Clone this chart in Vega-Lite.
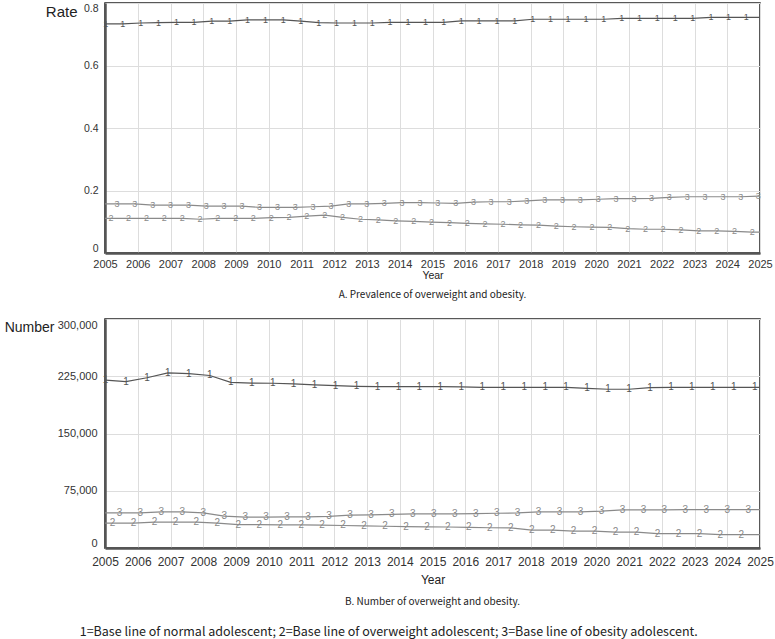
{
  "$schema": "https://vega.github.io/schema/vega-lite/v6.json",
  "background": "white",
  "padding": {"left": 3, "top": 2, "right": 6, "bottom": 4},
  "spacing": 17,
  "config": {
    "view": {"stroke": "#222", "strokeWidth": 1.5},
    "axis": {"gridColor": "#dddddd", "gridWidth": 1, "domainColor": "#555", "domainWidth": 2.5, "ticks": false, "labelColor": "#333", "titleColor": "#222", "titleFontWeight": "normal", "labelFont": "Liberation Sans", "titleFont": "Liberation Sans"}
  },
  "title": {"text": "1=Base line of normal adolescent; 2=Base line of overweight adolescent; 3=Base line of obesity adolescent.", "orient": "bottom", "anchor": "middle", "font": "Noto Sans CJK KR", "fontSize": 12.5, "fontWeight": "normal", "color": "#222", "offset": 18},
  "datasets": {
    "A": [
      {"s":"1","t":2005,"v":0.733},{"s":"1","t":2005.02,"v":0.733},{"s":"1","t":2005.54,"v":0.733},{"s":"1","t":2006.09,"v":0.736},{"s":"1","t":2006.63,"v":0.737},{"s":"1","t":2007.18,"v":0.738},{"s":"1","t":2007.72,"v":0.738},{"s":"1","t":2008.26,"v":0.742},{"s":"1","t":2008.81,"v":0.742},{"s":"1","t":2009.35,"v":0.746},{"s":"1","t":2009.90,"v":0.746},{"s":"1","t":2010.44,"v":0.746},{"s":"1","t":2010.98,"v":0.742},{"s":"1","t":2011.53,"v":0.737},{"s":"1","t":2012.07,"v":0.736},{"s":"1","t":2012.62,"v":0.736},{"s":"1","t":2013.16,"v":0.736},{"s":"1","t":2013.70,"v":0.738},{"s":"1","t":2014.25,"v":0.738},{"s":"1","t":2014.79,"v":0.738},{"s":"1","t":2015.34,"v":0.738},{"s":"1","t":2015.88,"v":0.743},{"s":"1","t":2016.42,"v":0.743},{"s":"1","t":2016.97,"v":0.743},{"s":"1","t":2017.51,"v":0.743},{"s":"1","t":2018.06,"v":0.748},{"s":"1","t":2018.60,"v":0.748},{"s":"1","t":2019.14,"v":0.748},{"s":"1","t":2019.69,"v":0.748},{"s":"1","t":2020.23,"v":0.748},{"s":"1","t":2020.78,"v":0.751},{"s":"1","t":2021.32,"v":0.751},{"s":"1","t":2021.86,"v":0.751},{"s":"1","t":2022.41,"v":0.751},{"s":"1","t":2022.95,"v":0.751},{"s":"1","t":2023.50,"v":0.754},{"s":"1","t":2024.04,"v":0.754},{"s":"1","t":2024.58,"v":0.754},{"s":"1","t":2025,"v":0.754},
      {"s":"2","t":2005,"v":0.111},{"s":"2","t":2005.18,"v":0.111},{"s":"2","t":2005.72,"v":0.111},{"s":"2","t":2006.27,"v":0.111},{"s":"2","t":2006.81,"v":0.111},{"s":"2","t":2007.36,"v":0.111},{"s":"2","t":2007.90,"v":0.108},{"s":"2","t":2008.44,"v":0.111},{"s":"2","t":2008.99,"v":0.111},{"s":"2","t":2009.53,"v":0.111},{"s":"2","t":2010.08,"v":0.113},{"s":"2","t":2010.62,"v":0.114},{"s":"2","t":2011.16,"v":0.118},{"s":"2","t":2011.71,"v":0.121},{"s":"2","t":2012.25,"v":0.114},{"s":"2","t":2012.80,"v":0.108},{"s":"2","t":2013.34,"v":0.106},{"s":"2","t":2013.88,"v":0.103},{"s":"2","t":2014.43,"v":0.101},{"s":"2","t":2014.97,"v":0.099},{"s":"2","t":2015.52,"v":0.097},{"s":"2","t":2016.06,"v":0.095},{"s":"2","t":2016.60,"v":0.093},{"s":"2","t":2017.15,"v":0.092},{"s":"2","t":2017.69,"v":0.090},{"s":"2","t":2018.24,"v":0.089},{"s":"2","t":2018.78,"v":0.086},{"s":"2","t":2019.32,"v":0.084},{"s":"2","t":2019.87,"v":0.083},{"s":"2","t":2020.41,"v":0.082},{"s":"2","t":2020.96,"v":0.078},{"s":"2","t":2021.50,"v":0.076},{"s":"2","t":2022.04,"v":0.076},{"s":"2","t":2022.59,"v":0.074},{"s":"2","t":2023.13,"v":0.071},{"s":"2","t":2023.68,"v":0.071},{"s":"2","t":2024.22,"v":0.069},{"s":"2","t":2024.76,"v":0.067},{"s":"2","t":2025,"v":0.067},
      {"s":"3","t":2005,"v":0.157},{"s":"3","t":2005.37,"v":0.157},{"s":"3","t":2005.91,"v":0.157},{"s":"3","t":2006.46,"v":0.153},{"s":"3","t":2007.00,"v":0.153},{"s":"3","t":2007.55,"v":0.153},{"s":"3","t":2008.09,"v":0.150},{"s":"3","t":2008.63,"v":0.150},{"s":"3","t":2009.18,"v":0.150},{"s":"3","t":2009.72,"v":0.146},{"s":"3","t":2010.27,"v":0.146},{"s":"3","t":2010.81,"v":0.146},{"s":"3","t":2011.35,"v":0.148},{"s":"3","t":2011.90,"v":0.150},{"s":"3","t":2012.44,"v":0.157},{"s":"3","t":2012.99,"v":0.157},{"s":"3","t":2013.53,"v":0.159},{"s":"3","t":2014.07,"v":0.161},{"s":"3","t":2014.62,"v":0.161},{"s":"3","t":2015.16,"v":0.160},{"s":"3","t":2015.71,"v":0.159},{"s":"3","t":2016.25,"v":0.163},{"s":"3","t":2016.79,"v":0.164},{"s":"3","t":2017.34,"v":0.164},{"s":"3","t":2017.88,"v":0.167},{"s":"3","t":2018.43,"v":0.170},{"s":"3","t":2018.97,"v":0.170},{"s":"3","t":2019.51,"v":0.170},{"s":"3","t":2020.06,"v":0.172},{"s":"3","t":2020.60,"v":0.174},{"s":"3","t":2021.15,"v":0.174},{"s":"3","t":2021.69,"v":0.175},{"s":"3","t":2022.23,"v":0.178},{"s":"3","t":2022.78,"v":0.180},{"s":"3","t":2023.32,"v":0.180},{"s":"3","t":2023.87,"v":0.180},{"s":"3","t":2024.41,"v":0.180},{"s":"3","t":2024.95,"v":0.182},{"s":"3","t":2025,"v":0.182}
    ],
    "B": [
      {"s":"1","t":2005,"v":220000},{"s":"1","t":2005.02,"v":220000},{"s":"1","t":2005.64,"v":218000},{"s":"1","t":2006.28,"v":223000},{"s":"1","t":2006.92,"v":229500},{"s":"1","t":2007.56,"v":228500},{"s":"1","t":2008.20,"v":226000},{"s":"1","t":2008.84,"v":217000},{"s":"1","t":2009.48,"v":216000},{"s":"1","t":2010.12,"v":215800},{"s":"1","t":2010.76,"v":215000},{"s":"1","t":2011.40,"v":213600},{"s":"1","t":2012.04,"v":212700},{"s":"1","t":2012.68,"v":211800},{"s":"1","t":2013.32,"v":211400},{"s":"1","t":2013.96,"v":211400},{"s":"1","t":2014.60,"v":211400},{"s":"1","t":2015.24,"v":211400},{"s":"1","t":2015.88,"v":211000},{"s":"1","t":2016.52,"v":210500},{"s":"1","t":2017.16,"v":210500},{"s":"1","t":2017.80,"v":210500},{"s":"1","t":2018.44,"v":210500},{"s":"1","t":2019.08,"v":210500},{"s":"1","t":2019.72,"v":209000},{"s":"1","t":2020.36,"v":208000},{"s":"1","t":2021.00,"v":208000},{"s":"1","t":2021.64,"v":210000},{"s":"1","t":2022.28,"v":210500},{"s":"1","t":2022.92,"v":210500},{"s":"1","t":2023.56,"v":210500},{"s":"1","t":2024.20,"v":210500},{"s":"1","t":2024.84,"v":210500},{"s":"1","t":2025,"v":210500},
      {"s":"2","t":2005,"v":32500},{"s":"2","t":2005.23,"v":32500},{"s":"2","t":2005.87,"v":32500},{"s":"2","t":2006.51,"v":33800},{"s":"2","t":2007.15,"v":33800},{"s":"2","t":2007.79,"v":33800},{"s":"2","t":2008.43,"v":32500},{"s":"2","t":2009.07,"v":30700},{"s":"2","t":2009.71,"v":30700},{"s":"2","t":2010.35,"v":30300},{"s":"2","t":2010.99,"v":30300},{"s":"2","t":2011.63,"v":30000},{"s":"2","t":2012.27,"v":29500},{"s":"2","t":2012.91,"v":29000},{"s":"2","t":2013.55,"v":28500},{"s":"2","t":2014.19,"v":28000},{"s":"2","t":2014.83,"v":27800},{"s":"2","t":2015.47,"v":27500},{"s":"2","t":2016.11,"v":27000},{"s":"2","t":2016.75,"v":26500},{"s":"2","t":2017.39,"v":26300},{"s":"2","t":2018.03,"v":23300},{"s":"2","t":2018.67,"v":23300},{"s":"2","t":2019.31,"v":22000},{"s":"2","t":2019.95,"v":22000},{"s":"2","t":2020.59,"v":20700},{"s":"2","t":2021.23,"v":20700},{"s":"2","t":2021.87,"v":18800},{"s":"2","t":2022.51,"v":18800},{"s":"2","t":2023.15,"v":18800},{"s":"2","t":2023.79,"v":17500},{"s":"2","t":2024.43,"v":17500},{"s":"2","t":2025,"v":17500},
      {"s":"3","t":2005,"v":46000},{"s":"3","t":2005.44,"v":46000},{"s":"3","t":2006.08,"v":46000},{"s":"3","t":2006.72,"v":47400},{"s":"3","t":2007.36,"v":47400},{"s":"3","t":2008.00,"v":46000},{"s":"3","t":2008.64,"v":41700},{"s":"3","t":2009.28,"v":40400},{"s":"3","t":2009.92,"v":40400},{"s":"3","t":2010.56,"v":40800},{"s":"3","t":2011.20,"v":40800},{"s":"3","t":2011.84,"v":41500},{"s":"3","t":2012.48,"v":43000},{"s":"3","t":2013.12,"v":43400},{"s":"3","t":2013.76,"v":44000},{"s":"3","t":2014.40,"v":44700},{"s":"3","t":2015.04,"v":44700},{"s":"3","t":2015.68,"v":44700},{"s":"3","t":2016.32,"v":45000},{"s":"3","t":2016.96,"v":45500},{"s":"3","t":2017.60,"v":46000},{"s":"3","t":2018.24,"v":47400},{"s":"3","t":2018.88,"v":47400},{"s":"3","t":2019.52,"v":47400},{"s":"3","t":2020.16,"v":48300},{"s":"3","t":2020.80,"v":50000},{"s":"3","t":2021.44,"v":50000},{"s":"3","t":2022.08,"v":50000},{"s":"3","t":2022.72,"v":50400},{"s":"3","t":2023.36,"v":50400},{"s":"3","t":2024.00,"v":50400},{"s":"3","t":2024.64,"v":50400},{"s":"3","t":2025,"v":50400}
    ]
  },
  "vconcat": [
    {
      "width": 655,
      "height": 250,
      "data": {"name": "A"},
      "title": {"text": "A. Prevalence of overweight and obesity.", "orient": "bottom", "anchor": "middle", "frame": "group", "font": "Noto Sans CJK KR", "fontSize": 10, "fontWeight": "normal", "color": "#222", "offset": 9},
      "encoding": {
        "x": {"field": "t", "type": "quantitative", "scale": {"domain": [2005, 2025], "nice": false, "zero": false},
              "axis": {"values": [2005,2006,2007,2008,2009,2010,2011,2012,2013,2014,2015,2016,2017,2018,2019,2020,2021,2022,2023,2024,2025], "format": "d", "title": "Year", "labelFontSize": 11, "labelPadding": 5, "labelFlush": false, "titleFontSize": 10.5, "titlePadding": 1}},
        "y": {"field": "v", "type": "quantitative", "scale": {"domain": [0, 0.8], "nice": false},
              "axis": {"values": [0, 0.2, 0.4, 0.6, 0.8], "format": "~g", "title": "Rate", "titleAngle": 0, "titleAlign": "right", "titleBaseline": "middle", "titleX": -28, "titleY": 8, "titleFontSize": 15, "labelFontSize": 10.5, "labelFlush": true, "labelPadding": 7}}
      },
      "layer": [
        {"mark": {"type": "line", "strokeWidth": 1.2}, "encoding": {"color": {"field": "s", "type": "nominal", "scale": {"domain": ["1","2","3"], "range": ["#555555","#8a8a8a","#8a8a8a"]}, "legend": null}}},
        {"transform": [{"filter": "datum.t > 2005 && datum.t < 2025"}], "mark": {"type": "text", "fontSize": 9, "font": "Liberation Sans", "baseline": "middle", "align": "center"}, "encoding": {"text": {"field": "s"}, "color": {"field": "s", "type": "nominal", "scale": {"domain": ["1","2","3"], "range": ["#555555","#8a8a8a","#8a8a8a"]}, "legend": null}}}
      ]
    },
    {
      "width": 655,
      "height": 229,
      "data": {"name": "B"},
      "title": {"text": "B. Number of overweight and obesity.", "orient": "bottom", "anchor": "middle", "frame": "group", "font": "Noto Sans CJK KR", "fontSize": 10, "fontWeight": "normal", "color": "#222", "offset": 12},
      "encoding": {
        "x": {"field": "t", "type": "quantitative", "scale": {"domain": [2005, 2025], "nice": false, "zero": false},
              "axis": {"values": [2005,2006,2007,2008,2009,2010,2011,2012,2013,2014,2015,2016,2017,2018,2019,2020,2021,2022,2023,2024,2025], "format": "d", "title": "Year", "labelFontSize": 12, "labelPadding": 8, "labelFlush": false, "titleFontSize": 12, "titlePadding": 7}},
        "y": {"field": "v", "type": "quantitative", "scale": {"domain": [0, 300000], "nice": false},
              "axis": {"values": [0, 75000, 150000, 225000, 300000], "format": ",.0f", "title": "Number", "titleAngle": 0, "titleAlign": "right", "titleBaseline": "middle", "titleX": -51, "titleY": 8, "titleFontSize": 14, "labelFontSize": 11, "labelFlush": true, "labelPadding": 8}}
      },
      "layer": [
        {"mark": {"type": "line", "strokeWidth": 1.2}, "encoding": {"color": {"field": "s", "type": "nominal", "scale": {"domain": ["1","2","3"], "range": ["#555555","#8a8a8a","#8a8a8a"]}, "legend": null}}},
        {"transform": [{"filter": "datum.t > 2005 && datum.t < 2025"}], "mark": {"type": "text", "fontSize": 10, "font": "Liberation Sans", "baseline": "middle", "align": "center"}, "encoding": {"text": {"field": "s"}, "color": {"field": "s", "type": "nominal", "scale": {"domain": ["1","2","3"], "range": ["#555555","#8a8a8a","#8a8a8a"]}, "legend": null}}}
      ]
    }
  ]
}
